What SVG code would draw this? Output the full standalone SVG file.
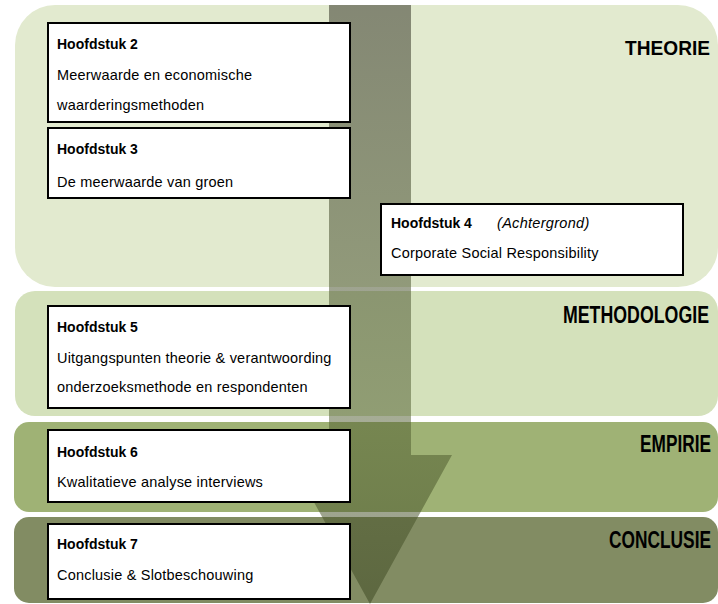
<svg xmlns="http://www.w3.org/2000/svg" width="718" height="604" viewBox="0 0 718 604">
<defs>
<linearGradient id="arrowGrad" x1="0" y1="0" x2="0" y2="1">
<stop offset="0" stop-color="#4a4b3c" stop-opacity="0.62"/>
<stop offset="0.7" stop-color="#4d5a2c" stop-opacity="0.5"/>
<stop offset="1" stop-color="#3f4a24" stop-opacity="0.55"/>
</linearGradient>
</defs>
<style>
.box{fill:#ffffff;stroke:#000000;stroke-width:2}
.h{font-family:"Liberation Sans",Arial,sans-serif;font-size:14px;font-weight:bold;fill:#000}
.t{font-family:"Liberation Sans",Arial,sans-serif;font-size:14.5px;letter-spacing:0.2px;fill:#000}
.i{font-family:"Liberation Sans",Arial,sans-serif;font-size:14.5px;font-style:italic;letter-spacing:0.3px;fill:#000}
.lbl{font-family:"Liberation Sans",Arial,sans-serif;font-weight:bold;fill:#000;text-anchor:end}
</style>
<g id="bands">
<rect x="15" y="5" width="703" height="282" rx="40" ry="40" fill="#e2eacf"/>
<rect x="15" y="291" width="703" height="125" rx="20" ry="20" fill="#d4e1bb"/>
<rect x="14" y="422" width="704" height="90" rx="15" ry="15" fill="#9fb275"/>
<rect x="14" y="517" width="704" height="86" rx="15" ry="15" fill="#828c63"/>
<text class="lbl" font-size="21" transform="translate(710,55) scale(0.91,1)">THEORIE</text>
<text class="lbl" font-size="24" transform="translate(709,323) scale(0.74,1)">METHODOLOGIE</text>
<text class="lbl" font-size="23" transform="translate(711,452) scale(0.75,1)">EMPIRIE</text>
<text class="lbl" font-size="23" transform="translate(711,548) scale(0.753,1)">CONCLUSIE</text>
</g>
<g id="connectors">
<polygon id="flow-arrow" points="329,5 411,5 411,455 452,455 370,604 288,455 329,455" fill="url(#arrowGrad)"/>
</g>
<g id="hoofdstuk2">
<rect class="box" x="48" y="23" width="302" height="99"/>
<text class="h" x="57" y="49">Hoofdstuk 2</text>
<text class="t" x="57" y="80">Meerwaarde en economische</text>
<text class="t" x="57" y="110">waarderingsmethoden</text>
</g>
<g id="hoofdstuk3">
<rect class="box" x="48" y="128" width="302" height="70"/>
<text class="h" x="57" y="154">Hoofdstuk 3</text>
<text class="t" x="57" y="187">De meerwaarde van groen</text>
</g>
<g id="hoofdstuk4">
<rect class="box" x="381" y="204" width="302" height="71"/>
<text class="h" x="391" y="228">Hoofdstuk 4</text>
<text class="i" x="497" y="228">(Achtergrond)</text>
<text class="t" x="391" y="258">Corporate Social Responsibility</text>
</g>
<g id="hoofdstuk5">
<rect class="box" x="48" y="306" width="302" height="102"/>
<text class="h" x="57" y="332">Hoofdstuk 5</text>
<text class="t" x="57" y="363">Uitgangspunten theorie &amp; verantwoording</text>
<text class="t" x="57" y="392">onderzoeksmethode en respondenten</text>
</g>
<g id="hoofdstuk6">
<rect class="box" x="48" y="430" width="302" height="72"/>
<text class="h" x="57" y="457">Hoofdstuk 6</text>
<text class="t" x="57" y="487">Kwalitatieve analyse interviews</text>
</g>
<g id="hoofdstuk7">
<rect class="box" x="48" y="524" width="302" height="75"/>
<text class="h" x="57" y="549">Hoofdstuk 7</text>
<text class="t" x="57" y="580">Conclusie &amp; Slotbeschouwing</text>
</g>
</svg>
